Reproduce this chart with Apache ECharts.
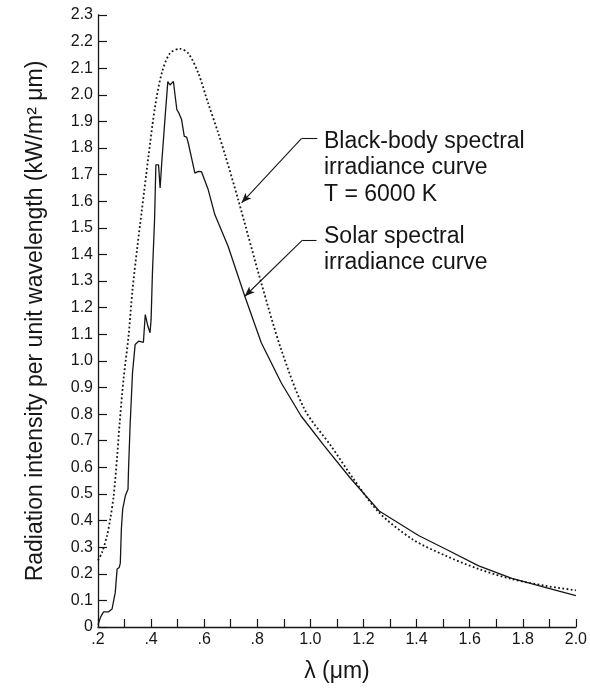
<!DOCTYPE html>
<html>
<head>
<meta charset="utf-8">
<script src="https://cdn.jsdelivr.net/npm/echarts@6/dist/echarts.min.js"></script>
<style>
  html, body { margin: 0; padding: 0; background: #fff; }
  #main { width: 590px; height: 688px; }
</style>
</head>
<body>
<div id="main"></div>
<script>
// wavelength (um) / intensity (kW/m2 um)
var solarWl = [0.200, 0.210, 0.221, 0.240, 0.253, 0.265, 0.272, 0.280, 0.284, 0.288, 0.293, 0.303,
    0.313, 0.315, 0.321, 0.330, 0.340, 0.353, 0.371, 0.378, 0.388, 0.396, 0.400, 0.405, 0.413,
    0.418, 0.428, 0.434, 0.440, 0.453, 0.463, 0.471, 0.484, 0.490, 0.497, 0.505, 0.515, 0.525,
    0.534, 0.540, 0.565, 0.578, 0.590, 0.615, 0.640, 0.690, 0.753, 0.815, 0.890, 0.965, 1.053,
    1.150, 1.259, 1.409, 1.509, 1.634, 1.759, 1.884, 2.000];
var solarVal = [0.008, 0.038, 0.057, 0.057, 0.068, 0.130, 0.218, 0.224, 0.240, 0.368, 0.443, 0.493,
    0.518, 0.593, 0.760, 0.956, 1.062, 1.074, 1.070, 1.174, 1.130, 1.106, 1.156, 1.330, 1.530,
    1.737, 1.737, 1.650, 1.744, 1.920, 2.050, 2.037, 2.050, 2.050, 1.944, 1.931, 1.906, 1.844,
    1.841, 1.819, 1.706, 1.712, 1.711, 1.644, 1.550, 1.431, 1.243, 1.068, 0.918, 0.793, 0.680,
    0.560, 0.436, 0.343, 0.293, 0.230, 0.183, 0.149, 0.118];

var bbWl = [0.200, 0.215, 0.234, 0.246, 0.259, 0.272, 0.281, 0.296, 0.315, 0.330, 0.347, 0.365,
    0.390, 0.415, 0.440, 0.471, 0.509, 0.540, 0.578, 0.615, 0.653, 0.680, 0.728, 0.815, 0.890,
    0.978, 1.078, 1.160, 1.259, 1.384, 1.509, 1.634, 1.759, 1.884, 2.000];
var bbVal = [0.250, 0.280, 0.343, 0.405, 0.493, 0.640, 0.760, 0.930, 1.093, 1.268, 1.418, 1.565,
    1.768, 1.956, 2.081, 2.156, 2.173, 2.156, 2.081, 1.968, 1.856, 1.770, 1.606, 1.293, 1.043,
    0.818, 0.680, 0.560, 0.430, 0.330, 0.268, 0.218, 0.180, 0.155, 0.138];

var xTickLabels = ['.2', '.4', '.6', '.8', '1.0', '1.2', '1.4', '1.6', '1.8', '2.0'];
var yTickLabels = ['0', '0.1', '0.2', '0.3', '0.4', '0.5', '0.6', '0.7', '0.8', '0.9', '1.0', '1.1',
    '1.2', '1.3', '1.4', '1.5', '1.6', '1.7', '1.8', '1.9', '2.0', '2.1', '2.2', '2.3'];

function zip(xs, ys) {
    return xs.map(function (x, i) { return [x, ys[i]]; });
}

var FONT = 'Liberation Sans, Arial, Helvetica, sans-serif';
var INK = '#161616';

var chart = echarts.init(document.getElementById('main'));

var option = {
    backgroundColor: '#ffffff',
    animation: false,
    grid: { left: 98, right: 13, top: 15, bottom: 60 },
    xAxis: {
        type: 'value',
        min: 0.2,
        max: 2.0,
        interval: 0.1,
        name: 'λ (μm)',
        nameLocation: 'middle',
        nameGap: 33,
        nameTextStyle: { fontFamily: FONT, fontSize: 23, color: INK },
        splitLine: { show: false },
        axisLine: { lineStyle: { color: INK, width: 1.3 } },
        axisTick: { inside: true, length: 8, lineStyle: { color: INK, width: 1.2 } },
        axisLabel: {
            fontFamily: FONT, fontSize: 16, color: INK, margin: 5, showMaxLabel: true,
            formatter: function (v) {
                var n = Math.round(v * 10);
                return n % 2 === 0 ? xTickLabels[(n - 2) / 2] : '';
            }
        }
    },
    yAxis: {
        type: 'value',
        min: 0,
        max: 2.3,
        interval: 0.1,
        name: 'Radiation intensity per unit wavelength (kW/m² μm)',
        nameLocation: 'middle',
        nameGap: 51,
        nameTextStyle: { fontFamily: FONT, fontSize: 23, color: INK },
        splitLine: { show: false },
        axisLine: { show: true, lineStyle: { color: INK, width: 1.3 } },
        axisTick: { show: true, inside: true, length: 9, lineStyle: { color: INK, width: 1.2 } },
        axisLabel: {
            fontFamily: FONT, fontSize: 16, color: INK, margin: 5,
            formatter: function (v) { return yTickLabels[Math.round(v * 10)]; }
        }
    },
    series: [
        {
            name: 'Solar spectral irradiance curve',
            type: 'line',
            data: zip(solarWl, solarVal),
            showSymbol: false,
            smooth: false,
            lineStyle: { color: INK, width: 1.3 }
        },
        {
            name: 'Black-body spectral irradiance curve',
            type: 'line',
            data: zip(bbWl, bbVal),
            showSymbol: false,
            smooth: 0.3,
            lineStyle: { color: INK, width: 1.8, type: [1.8, 2.4] },
            markLine: {
                silent: true,
                symbol: ['none', 'none'],
                label: { show: false },
                lineStyle: { color: INK, width: 1.1, type: 'solid' },
                data: [
                    [{ coord: [1.026, 1.835] }, { coord: [0.966, 1.835] }],
                    [{ coord: [0.966, 1.835] }, { coord: [0.741, 1.594], symbol: 'arrow', symbolSize: [6, 10] }],
                    [{ coord: [1.023, 1.454] }, { coord: [0.970, 1.454] }],
                    [{ coord: [0.970, 1.454] }, { coord: [0.753, 1.243], symbol: 'arrow', symbolSize: [6, 10] }]
                ]
            }
        }
    ],
    graphic: [
        {
            type: 'text', left: 324, top: 128,
            style: {
                text: 'Black-body spectral\nirradiance curve\nT = 6000 K',
                font: '23px ' + FONT, lineHeight: 26.5, fill: INK
            }
        },
        {
            type: 'text', left: 324, top: 223,
            style: {
                text: 'Solar spectral\nirradiance curve',
                font: '23px ' + FONT, lineHeight: 26.5, fill: INK
            }
        }
    ]
};

chart.setOption(option);
</script>
</body>
</html>
